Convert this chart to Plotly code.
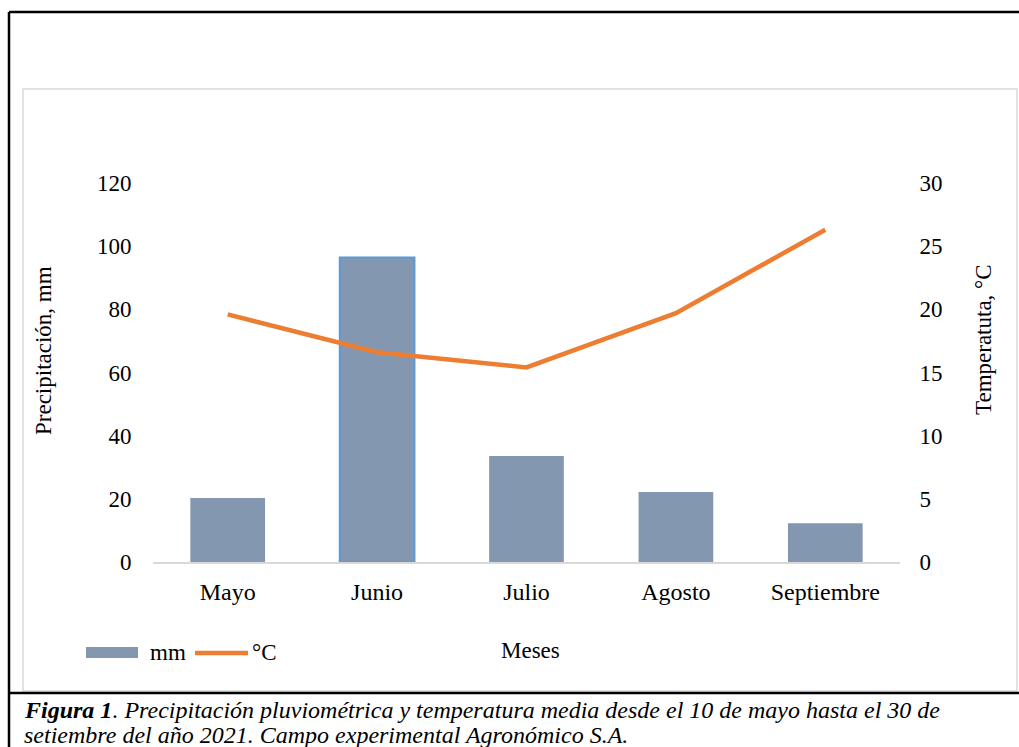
import plotly.graph_objects as go

# ---- data ----
meses = ["Mayo", "Junio", "Julio", "Agosto", "Septiembre"]
precipitacion_mm = [20.3, 96.4, 33.6, 22.2, 12.3]
temperatura_c = [19.6, 16.6, 15.4, 19.7, 26.3]
y1_ticks = [0, 20, 40, 60, 80, 100, 120]
y2_ticks = [0, 5, 10, 15, 20, 25, 30]
serie_barras = "mm"
serie_linea = "°C"
titulo_x = "Meses"
titulo_y1 = "Precipitación, mm"
titulo_y2 = "Temperatuta, °C"
caption_1_bold = "Figura 1"
caption_1_rest = ". Precipitación pluviométrica y temperatura media desde el 10 de mayo hasta el 30 de"
caption_2 = "setiembre del año 2021. Campo experimental Agronómico S.A."

W, H = 1019, 747
L, R, T, B = 153, 900, 183, 562
FONT = "Liberation Serif, Times New Roman, serif"
BAR_COLOR = "#8497B0"
LINE_COLOR = "#ED7D31"


def fx(px):
    return (px - L) / (R - L)


def fy(py):
    return (B - py) / (B - T)


fig = go.Figure()
fig.add_trace(go.Bar(
    x=meses, y=precipitacion_mm, name=serie_barras, width=0.5,
    marker=dict(color=BAR_COLOR,
                line=dict(color=["rgba(0,0,0,0)", "#5B9BD5", "rgba(0,0,0,0)",
                                 "rgba(0,0,0,0)", "rgba(0,0,0,0)"],
                          width=[0, 2, 0, 0, 0])),
    yaxis="y", showlegend=False,
))
fig.add_trace(go.Scatter(
    x=meses, y=temperatura_c, name=serie_linea, mode="lines",
    line=dict(color=LINE_COLOR, width=4.5),
    yaxis="y2", showlegend=False,
))

tickfont = dict(family=FONT, size=23, color="#000000")
fig.update_layout(
    width=W, height=H,
    margin=dict(l=L, r=W - R, t=T, b=H - B, pad=0),
    paper_bgcolor="white", plot_bgcolor="white",
    font=dict(family=FONT, size=23, color="#000000"),
    bargap=0.5,
    xaxis=dict(showline=True, linecolor="#D9D9D9", linewidth=1.5,
               showgrid=False, zeroline=False, ticks="outside", ticklen=7,
               tickcolor="rgba(0,0,0,0)",
               tickfont=dict(family=FONT, size=24, color="#000000")),
    yaxis=dict(range=[0, 120], tickvals=y1_ticks, showgrid=False,
               zeroline=False, showline=False, ticks="outside", ticklen=16,
               tickcolor="rgba(0,0,0,0)", tickfont=tickfont),
    yaxis2=dict(range=[0, 30], tickvals=y2_ticks, overlaying="y", side="right",
                showgrid=False, zeroline=False, showline=False, ticks="outside",
                ticklen=14, tickcolor="rgba(0,0,0,0)", tickfont=tickfont),
    showlegend=False,
)

shapes = []
# outer black frame
for (x0, y0, x1, y1) in [(9, 12, 1030, 12), (9, 12, 9, 760), (9, 693, 1030, 693)]:
    shapes.append(dict(type="line", xref="paper", yref="paper",
                       x0=fx(x0), y0=fy(y0), x1=fx(x1), y1=fy(y1),
                       line=dict(color="#000000", width=2.5)))
# inner chart area border
shapes.append(dict(type="rect", xref="paper", yref="paper",
                   x0=fx(23), y0=fy(89), x1=fx(1017), y1=fy(691),
                   line=dict(color="#D9D9D9", width=1.5), layer="below"))
# legend swatches
shapes.append(dict(type="rect", xref="paper", yref="paper",
                   x0=fx(86), y0=fy(647), x1=fx(138), y1=fy(658),
                   fillcolor=BAR_COLOR, line=dict(width=0)))
shapes.append(dict(type="line", xref="paper", yref="paper",
                   x0=fx(195), y0=fy(653), x1=fx(248), y1=fy(653),
                   line=dict(color=LINE_COLOR, width=4.5)))
fig.update_layout(shapes=shapes)

ann = []
ann.append(dict(text=serie_barras, x=fx(148), y=fy(652), xanchor="left", yanchor="middle"))
ann.append(dict(text=serie_linea, x=fx(250), y=fy(652), xanchor="left", yanchor="middle"))
ann.append(dict(text=titulo_x, x=fx(530), y=fy(650), xanchor="center", yanchor="middle"))
ann.append(dict(text=titulo_y1, x=fx(43), y=fy(351), xanchor="center", yanchor="middle", textangle=-90))
ann.append(dict(text=titulo_y2, x=fx(983), y=fy(340), xanchor="center", yanchor="middle", textangle=-90))
ann.append(dict(text="<b><i>" + caption_1_bold + "</i></b><i>" + caption_1_rest + "</i>",
                x=fx(22), y=fy(710), xanchor="left", yanchor="middle",
                font=dict(family=FONT, size=24, color="#000000")))
ann.append(dict(text="<i>" + caption_2 + "</i>",
                x=fx(22), y=fy(735), xanchor="left", yanchor="middle",
                font=dict(family=FONT, size=24, color="#000000")))
for a in ann:
    a.update(xref="paper", yref="paper", showarrow=False)
    a.setdefault("font", dict(family=FONT, size=23, color="#000000"))
fig.update_layout(annotations=ann)

fig.write_html("out.html",
               config={"displayModeBar": False},
               post_script="document.body.style.margin='0px';document.body.style.overflow='hidden';")
